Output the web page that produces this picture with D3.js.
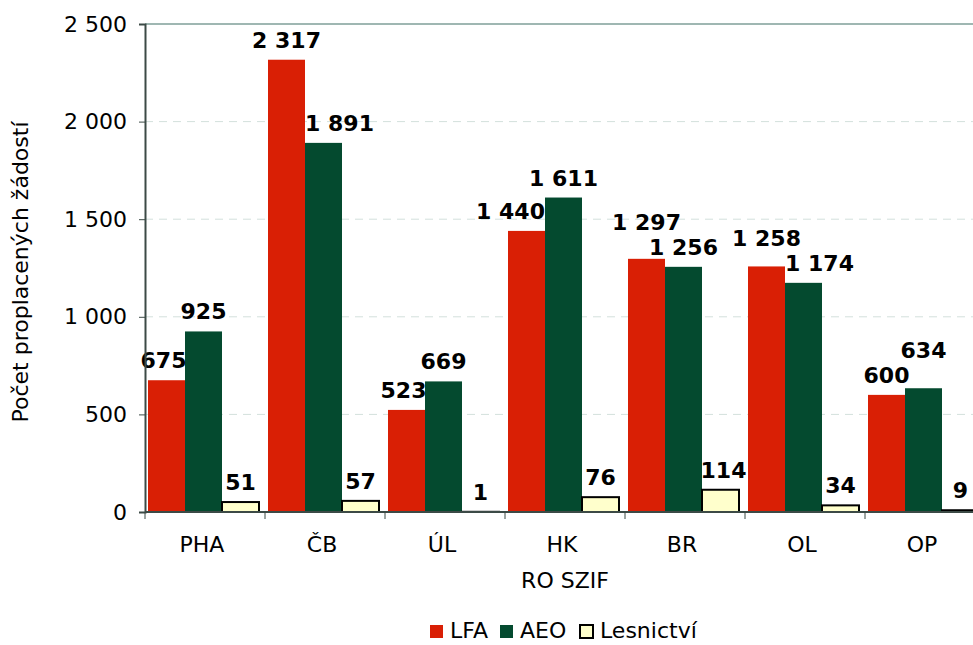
<!DOCTYPE html>
<html>
<head>
<meta charset="utf-8">
<script src="https://cdn.jsdelivr.net/npm/d3@7"></script>
<style>
  body { margin: 0; background: #fff; }
  text { font-family: "DejaVu Sans", Verdana, sans-serif; fill: #000; }
</style>
</head>
<body>
<svg id="chart"></svg>
<script>
// chart data
const categories = ["PHA", "ČB", "ÚL", "HK", "BR", "OL", "OP"];
const seriesNames = ["LFA", "AEO", "Lesnictví"];
const lfa = [675, 2317, 523, 1440, 1297, 1258, 600];
const aeo = [925, 1891, 669, 1611, 1256, 1174, 634];
const lesnictvi = [51, 57, 1, 76, 114, 34, 9];
const yTicks = [0, 500, 1000, 1500, 2000, 2500];

const colors = ["#d91f05", "#044a2f", "#ffffcc"];
const width = 973, height = 645;
const margin = { top: 24, right: -12, bottom: 133, left: 145 };

const svg = d3.select("#chart").attr("width", width).attr("height", height);

const x = d3.scaleBand().domain(categories).range([margin.left, width - margin.right]);
const y = d3.scaleLinear().domain([0, 2500]).range([height - margin.bottom, margin.top]);
const barW = 37;
const groupOffset = 3;

const fmt = (v) => d3.format(",")(v).replace(/,/g, " ");

// grid lines
svg.append("g")
  .selectAll("line")
  .data(yTicks.filter((t) => t > 0))
  .join("line")
  .attr("x1", margin.left)
  .attr("x2", width)
  .attr("y1", (d) => y(d))
  .attr("y2", (d) => y(d))
  .attr("stroke", (d) => (d === 2500 ? "#7f9f98" : "#d3e0dc"))
  .attr("stroke-width", (d) => (d === 2500 ? 1.5 : 1))
  .attr("stroke-dasharray", (d) => (d === 2500 ? null : "8,6"));

// bars
const data = categories.map((c, i) => ({ cat: c, vals: [lfa[i], aeo[i], lesnictvi[i]] }));
const groups = svg.append("g")
  .selectAll("g")
  .data(data)
  .join("g")
  .attr("transform", (d) => `translate(${x(d.cat) + groupOffset},0)`);

groups.selectAll("rect")
  .data((d) => d.vals.map((v, s) => ({ v, s })))
  .join("rect")
  .attr("x", (d) => d.s * barW)
  .attr("y", (d) => y(d.v))
  .attr("width", barW)
  .attr("height", (d) => y(0) - y(d.v))
  .attr("fill", (d) => colors[d.s])
  .attr("stroke", (d) => (d.s === 2 ? "#000" : "none"))
  .attr("stroke-width", 2);

// value labels: pushed sideways off taller neighbour bars,
// smaller values placed first, taller ones lifted over any collision
const labelH = 25;
data.forEach((d) => {
  const g0 = x(d.cat) + groupOffset;
  const boxes = [];
  const order = d.vals.map((v, s) => s).sort((a, b) => d.vals[a] - d.vals[b]);
  order.forEach((s) => {
    const v = d.vals[s];
    let cx = g0 + s * barW + barW / 2;
    const txt = fmt(v);
    const w = txt.length * 13;
    let base = y(v) - 12;
    [s - 1, s + 1].forEach((n) => {
      if (n < 0 || n > 2 || y(d.vals[n]) > base) return;
      if (n < s && cx - w / 2 < g0 + (n + 1) * barW + 2) cx = g0 + (n + 1) * barW + 2 + w / 2;
      if (n > s && cx + w / 2 > g0 + n * barW - 2) cx = g0 + n * barW - 2 - w / 2;
    });
    boxes.forEach((b) => {
      const overlapX = Math.abs(b.cx - cx) < (b.w + w) / 2;
      if (overlapX && base > b.base - labelH) base = b.base - labelH;
    });
    boxes.push({ cx, w, base });
    svg.append("text")
      .attr("x", cx)
      .attr("y", base)
      .attr("text-anchor", "middle")
      .attr("font-size", 22)
      .attr("font-weight", "bold")
      .text(txt);
  });
});

// axes
const yAxis = svg.append("g")
  .attr("transform", `translate(${margin.left},0)`)
  .call(d3.axisLeft(y).tickValues(yTicks).tickSize(6).tickPadding(12).tickFormat(fmt));
yAxis.select(".domain").attr("stroke", "#3c4a46").attr("stroke-width", 2);
yAxis.selectAll(".tick line").attr("stroke", "#3c4a46");
yAxis.selectAll("text").attr("font-size", 22).attr("font-family", "DejaVu Sans");

const xAxis = svg.append("g")
  .attr("transform", `translate(0,${y(0)})`);
xAxis.append("line")
  .attr("x1", margin.left).attr("x2", width)
  .attr("stroke", "#3c4a46").attr("stroke-width", 2);
xAxis.selectAll(".tk")
  .data(categories)
  .join("line")
  .attr("x1", (d) => x(d)).attr("x2", (d) => x(d))
  .attr("y1", 0).attr("y2", 7)
  .attr("stroke", "#3c4a46");
xAxis.selectAll(".lbl")
  .data(categories)
  .join("text")
  .attr("x", (d) => x(d) + x.bandwidth() / 2 - 3)
  .attr("y", 40)
  .attr("text-anchor", "middle")
  .attr("font-size", 22)
  .text((d) => d);

// axis titles
svg.append("text")
  .attr("x", 565).attr("y", 588)
  .attr("text-anchor", "middle")
  .attr("font-size", 22)
  .text("RO SZIF");
svg.append("text")
  .attr("transform", "translate(28,272) rotate(-90)")
  .attr("text-anchor", "middle")
  .attr("font-size", 22)
  .text("Počet proplacených žádostí");

// legend
const legendX = [430, 500, 580];
const legend = svg.append("g").attr("transform", "translate(0,623)");
seriesNames.forEach((n, i) => {
  legend.append("rect")
    .attr("x", legendX[i]).attr("y", 2)
    .attr("width", 13).attr("height", 13)
    .attr("fill", colors[i])
    .attr("stroke", i === 2 ? "#000" : "none")
    .attr("stroke-width", 2);
  legend.append("text")
    .attr("x", legendX[i] + 20).attr("y", 15)
    .attr("font-size", 22)
    .text(n);
});
</script>
</body>
</html>
